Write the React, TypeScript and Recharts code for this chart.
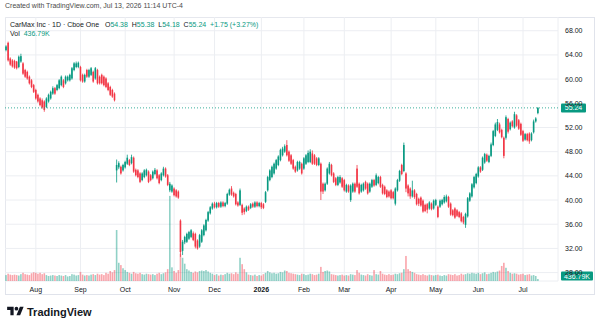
import React from 'react'
import { ComposedChart, Bar, XAxis, YAxis, CartesianGrid, ReferenceLine } from 'recharts'

// daily candles, Jul 14 2025 .. Jul 13 2026 (index = trading day)
const opens = [
  64.8, 66.0, 63.4, 63.1, 63.0, 62.9, 62.0, 62.9, 62.6, 61.5,
  61.2, 60.4, 59.8, 59.0, 58.2, 57.4, 56.8, 56.5, 56.3, 55.4,
  56.3, 56.8, 57.6, 58.5, 58.2, 58.5, 59.0, 59.8, 59.3, 59.8,
  59.8, 60.1, 61.5, 62.0, 62.0, 62.0, 60.7, 59.6, 61.5, 60.4,
  60.7, 61.2, 60.1, 61.5, 60.4, 60.7, 60.4, 60.1, 59.3, 58.7,
  58.2, 57.6, 44.9, 45.4, 45.5, 44.9, 45.4, 46.0, 46.6, 46.1,
  47.0, 45.0, 44.9, 44.4, 43.3, 43.8, 44.1, 44.7, 44.1, 43.6,
  44.3, 44.9, 44.1, 43.3, 44.1, 45.2, 44.1, 41.6, 41.4, 41.9,
  41.6, 41.4, 36.6, 31.6, 33.0, 33.1, 33.6, 33.9, 34.5, 34.4,
  33.3, 32.3, 33.1, 34.2, 35.0, 36.6, 37.8, 38.6, 39.4, 38.8,
  39.5, 38.9, 39.6, 39.0, 39.4, 40.9, 41.9, 41.2, 41.0, 39.6,
  39.2, 39.2, 38.6, 38.2, 38.9, 38.7, 39.4, 38.9, 39.6, 39.0,
  39.5, 39.3, 39.7, 41.6, 43.3, 43.8, 44.4, 45.2, 45.8, 46.6,
  47.4, 48.0, 49.1, 48.0, 47.4, 46.6, 45.5, 44.9, 45.2, 46.0,
  45.2, 46.0, 46.3, 46.3, 47.7, 47.4, 46.9, 45.8, 46.0, 42.7,
  41.6, 42.7, 44.4, 45.8, 44.4, 43.6, 42.5, 42.9, 43.6, 43.3,
  41.4, 42.4, 40.0, 41.4, 42.7, 45.2, 42.7, 41.4, 41.6, 43.0,
  42.7, 41.4, 42.2, 43.3, 42.5, 42.8, 43.8, 42.5, 42.2, 41.6,
  41.4, 41.6, 41.3, 39.4, 41.6, 43.2, 45.8, 44.8, 44.4, 42.4,
  41.9, 40.6, 41.6, 41.0, 40.2, 40.4, 39.9, 39.2, 39.3, 38.6,
  39.4, 38.6, 39.2, 38.9, 38.9, 39.3, 39.6, 39.8, 40.5, 39.4,
  38.3, 38.6, 38.3, 38.0, 37.8, 37.2, 35.9, 37.3, 39.9, 40.6,
  42.1, 42.8, 43.9, 45.4, 45.0, 46.2, 47.5, 46.3, 47.3, 49.1,
  50.6, 51.6, 52.5, 51.6, 50.3, 50.3, 53.4, 51.7, 53.0, 52.0,
  54.0, 53.2, 52.6, 51.4, 50.0, 50.9, 51.0, 49.9, 51.2, 53.0,
  54.38,
]

const highs = [
  65.6, 66.2, 63.6, 63.3, 63.2, 63.0, 63.9, 64.2, 62.8, 61.7,
  61.4, 60.6, 60.0, 59.2, 58.4, 57.6, 57.0, 56.8, 56.5, 57.0,
  57.6, 58.1, 58.8, 58.7, 59.2, 60.0, 60.6, 60.0, 60.6, 60.6,
  60.9, 62.0, 62.8, 62.9, 62.9, 62.2, 60.9, 60.9, 61.7, 61.7,
  62.0, 61.4, 62.0, 61.7, 60.6, 60.9, 60.6, 60.3, 59.5, 58.9,
  58.4, 57.8, 46.7, 46.4, 45.7, 46.0, 46.5, 47.5, 46.8, 47.5,
  47.2, 45.2, 45.1, 44.6, 44.6, 45.1, 45.2, 44.9, 44.3, 44.9,
  45.3, 45.1, 44.3, 44.6, 45.5, 45.4, 44.3, 43.0, 42.6, 42.1,
  41.8, 41.6, 36.8, 33.4, 34.1, 34.6, 34.9, 35.2, 34.8, 34.6,
  33.5, 34.4, 35.2, 36.0, 36.9, 38.2, 39.0, 39.6, 39.7, 39.7,
  39.7, 39.8, 39.8, 39.7, 41.2, 41.9, 42.3, 41.4, 41.2, 39.8,
  41.9, 39.4, 38.8, 39.1, 39.1, 39.5, 39.6, 39.8, 39.8, 39.7,
  39.7, 39.5, 41.5, 44.0, 45.1, 45.7, 46.2, 46.8, 47.4, 48.5,
  48.8, 49.2, 49.9, 48.2, 47.6, 46.8, 45.7, 46.5, 46.5, 46.2,
  47.1, 47.6, 48.2, 48.4, 48.2, 47.6, 47.1, 47.1, 46.2, 42.9,
  42.9, 45.4, 46.3, 46.0, 44.6, 43.8, 44.0, 44.1, 43.8, 43.5,
  42.7, 42.6, 42.6, 42.9, 42.9, 45.8, 42.9, 42.7, 42.9, 43.2,
  42.9, 42.9, 43.5, 43.5, 44.4, 44.0, 44.0, 42.7, 42.4, 41.8,
  41.6, 41.8, 41.5, 42.1, 43.5, 45.0, 46.0, 49.5, 44.6, 42.6,
  42.1, 43.2, 41.8, 41.2, 40.4, 40.6, 40.1, 39.4, 39.5, 39.8,
  39.6, 40.1, 40.2, 39.1, 40.1, 40.2, 40.8, 40.9, 40.7, 39.6,
  38.5, 38.8, 38.5, 38.2, 38.0, 37.4, 37.9, 40.5, 41.3, 42.8,
  44.0, 44.5, 45.6, 45.6, 47.2, 47.8, 47.7, 47.5, 49.5, 51.6,
  52.8, 53.4, 52.8, 51.8, 50.5, 54.0, 53.6, 53.0, 53.2, 54.6,
  54.2, 53.4, 52.8, 51.6, 51.1, 51.1, 51.2, 51.2, 53.3, 53.7,
  55.38,
]

const lows = [
  64.6, 62.9, 62.2, 61.9, 61.7, 61.6, 61.8, 62.7, 60.7, 60.2,
  59.9, 59.1, 58.5, 57.7, 56.6, 56.1, 55.5, 55.1, 54.6, 55.2,
  56.1, 56.6, 57.4, 57.4, 58.0, 58.3, 58.8, 58.5, 59.1, 59.6,
  59.6, 59.9, 61.3, 61.8, 61.8, 59.6, 59.4, 59.4, 60.2, 60.2,
  60.5, 59.4, 59.9, 59.1, 59.1, 59.1, 58.8, 58.5, 58.0, 57.2,
  56.9, 56.3, 42.9, 45.1, 44.2, 44.7, 45.2, 45.8, 45.6, 45.9,
  44.5, 43.9, 43.6, 42.8, 43.1, 43.6, 43.9, 42.8, 43.1, 43.4,
  44.1, 43.4, 42.6, 43.1, 43.9, 43.7, 42.3, 41.3, 41.2, 40.6,
  40.4, 40.2, 30.6, 30.9, 32.7, 32.9, 33.4, 33.7, 33.2, 32.0,
  31.8, 32.1, 32.9, 34.0, 34.8, 36.4, 37.6, 38.4, 38.6, 38.6,
  38.7, 38.7, 38.8, 38.8, 39.2, 40.7, 40.7, 40.4, 39.1, 38.9,
  39.0, 37.5, 37.6, 38.0, 38.2, 38.5, 38.7, 38.7, 38.8, 38.8,
  38.5, 38.5, 39.5, 41.4, 43.1, 43.6, 44.2, 45.0, 45.6, 46.4,
  47.2, 47.8, 47.2, 46.3, 45.8, 45.0, 44.5, 44.7, 45.0, 44.2,
  45.0, 45.8, 46.1, 46.1, 45.8, 45.8, 45.6, 45.6, 40.0, 41.0,
  41.4, 42.5, 44.2, 43.9, 42.8, 42.3, 42.3, 42.7, 42.0, 41.4,
  41.2, 41.2, 39.7, 41.2, 41.2, 42.0, 40.9, 41.2, 41.4, 41.7,
  40.9, 41.2, 42.0, 42.2, 42.3, 42.6, 42.0, 40.9, 40.8, 40.3,
  40.4, 40.1, 40.1, 39.1, 41.4, 43.0, 44.1, 44.6, 41.3, 40.6,
  40.2, 40.4, 40.2, 39.1, 39.0, 38.9, 37.9, 38.0, 37.8, 38.4,
  38.3, 38.4, 39.0, 37.0, 38.7, 39.1, 39.4, 39.6, 38.7, 37.4,
  37.3, 36.9, 37.2, 37.0, 36.3, 36.0, 35.4, 37.1, 39.7, 40.4,
  41.9, 42.6, 43.7, 44.5, 44.8, 46.0, 46.3, 46.1, 47.1, 48.9,
  50.4, 51.4, 51.0, 50.2, 46.9, 50.0, 51.0, 51.5, 52.0, 51.8,
  52.1, 51.6, 50.6, 49.6, 49.8, 49.7, 49.3, 49.7, 51.0, 52.8,
  54.18,
]

const closes = [
  65.4, 63.1, 62.4, 62.1, 61.9, 61.8, 63.7, 63.8, 60.9, 60.4,
  60.1, 59.3, 58.7, 57.9, 56.8, 56.3, 55.7, 55.3, 54.9, 56.8,
  57.4, 57.9, 58.5, 57.6, 59.0, 59.8, 60.4, 58.7, 60.4, 60.4,
  60.7, 61.8, 62.6, 62.6, 62.7, 59.8, 59.6, 60.7, 60.4, 61.5,
  61.8, 59.6, 61.8, 59.3, 59.3, 59.3, 59.0, 58.7, 58.2, 57.4,
  57.1, 56.5, 45.8, 46.1, 44.4, 45.8, 46.3, 47.0, 45.8, 47.1,
  44.7, 44.1, 43.8, 43.0, 44.4, 44.9, 45.0, 43.0, 43.3, 44.7,
  45.0, 43.6, 42.8, 44.4, 45.2, 43.9, 42.5, 42.7, 42.4, 40.8,
  40.6, 40.4, 31.4, 33.1, 33.9, 34.4, 34.7, 35.0, 33.4, 32.3,
  32.0, 34.2, 35.0, 35.8, 36.7, 38.0, 38.8, 39.4, 38.8, 39.5,
  38.9, 39.6, 39.0, 39.5, 41.0, 41.7, 40.9, 40.6, 39.3, 39.1,
  41.6, 37.9, 38.0, 38.9, 38.4, 39.3, 38.9, 39.6, 39.0, 39.5,
  38.8, 38.7, 41.3, 43.8, 44.9, 45.5, 46.0, 46.6, 47.2, 48.3,
  48.5, 48.9, 47.4, 46.5, 46.0, 45.2, 44.7, 46.3, 46.3, 44.4,
  46.9, 47.4, 47.8, 48.0, 46.0, 46.0, 45.8, 46.9, 41.4, 41.4,
  42.7, 45.2, 46.0, 44.1, 43.0, 42.5, 43.8, 43.8, 42.2, 41.6,
  42.5, 41.4, 42.4, 42.7, 41.4, 42.2, 41.1, 42.5, 42.7, 41.9,
  41.1, 42.7, 43.3, 42.4, 44.1, 43.8, 42.2, 41.1, 41.0, 40.5,
  40.6, 40.3, 40.3, 41.9, 43.3, 44.8, 44.3, 49.1, 41.9, 41.1,
  40.6, 41.6, 40.5, 39.3, 39.4, 39.1, 38.1, 38.2, 38.4, 39.6,
  38.5, 39.9, 40.0, 37.2, 39.9, 40.0, 40.5, 40.6, 38.9, 37.6,
  37.5, 37.1, 37.4, 37.2, 36.5, 36.3, 37.7, 40.3, 41.1, 42.6,
  43.8, 44.3, 45.4, 44.7, 47.0, 47.6, 46.5, 47.3, 49.2, 51.4,
  52.5, 52.9, 51.2, 50.4, 47.3, 53.7, 51.3, 52.8, 52.2, 54.2,
  52.3, 51.8, 50.8, 49.8, 50.9, 49.9, 49.7, 51.0, 53.0, 53.49,
  55.24,
]

// volume in millions of shares
const volumes = [
  1.3, 1.6, 1.4, 1.3, 1.4, 1.3, 1.2, 1.5, 1.8, 1.5,
  1.4, 1.3, 1.7, 1.9, 1.8, 1.6, 1.8, 1.5, 1.7, 1.3,
  1.1, 1.2, 1.3, 1.2, 1.1, 1.3, 1.2, 1.1, 1.3, 1.0,
  1.1, 1.5, 1.4, 1.2, 1.3, 2.0, 1.4, 1.2, 1.3, 1.2,
  1.4, 1.5, 1.3, 1.6, 1.4, 1.5, 1.3, 1.8, 1.6, 2.2,
  1.9, 2.4, 11.2, 4.0, 3.5, 2.8, 2.4, 2.0, 1.8, 1.6,
  2.0, 1.7, 1.6, 1.8, 1.5, 1.4, 1.6, 1.5, 1.4, 1.5,
  1.3, 1.6, 1.8, 1.5, 1.7, 1.9, 2.6, 18.7, 3.0, 2.2,
  1.8, 2.4, 6.0, 5.1, 3.8, 2.6, 2.3, 2.0, 1.8, 2.1,
  1.9, 2.2, 2.3, 2.2, 2.4, 2.1, 1.8, 1.6, 1.3, 1.5,
  1.2, 1.4, 1.3, 1.5, 1.8, 1.6, 1.7, 1.5, 1.9, 1.6,
  5.1, 3.7, 2.6, 1.9, 1.4, 1.3, 1.2, 1.4, 1.1, 1.3,
  1.2, 1.5, 1.8, 2.2, 1.9, 1.7, 1.8, 1.6, 1.7, 2.0,
  1.9, 2.3, 2.2, 1.8, 1.7, 1.6, 1.5, 1.4, 1.3, 1.6,
  1.5, 1.3, 1.4, 1.6, 1.5, 1.3, 1.4, 1.6, 3.1, 2.0,
  2.2, 2.3, 2.1, 1.5, 1.4, 1.3, 1.2, 1.3, 1.4, 1.2,
  1.3, 1.2, 1.5, 1.4, 1.3, 2.4, 1.8, 1.4, 1.3, 1.2,
  1.5, 1.3, 1.2, 2.4, 1.5, 1.4, 2.2, 1.6, 1.4, 1.3,
  1.5, 1.3, 1.4, 1.6, 1.5, 1.7, 1.8, 2.6, 5.5, 2.6,
  2.2, 2.0, 1.8, 1.5, 1.4, 1.3, 1.5, 1.3, 1.2, 1.4,
  1.3, 1.2, 1.3, 1.4, 1.2, 1.1, 1.3, 1.2, 1.5, 1.4,
  1.3, 1.5, 1.2, 1.3, 1.6, 1.4, 1.5, 1.7, 1.6, 1.8,
  1.7, 1.6, 1.8, 1.5, 1.7, 1.9, 1.5, 1.6, 1.8, 2.0,
  1.9, 2.1, 2.3, 3.3, 4.0, 2.9, 2.2, 1.8, 1.6, 1.7,
  1.6, 1.4, 1.5, 1.6, 1.3, 1.4, 1.5, 1.2, 1.3, 1.1,
  0.43679,
]

// first trading day of each month and its label
const monthStarts = [14, 35, 56, 79, 98, 120, 140, 159, 181, 202, 222, 243]
const monthLabels = ['Aug', 'Sep', 'Oct', 'Nov', 'Dec', '2026', 'Feb', 'Mar', 'Apr', 'May', 'Jun', 'Jul']
const priceTicks = [28, 32, 36, 40, 44, 48, 52, 56, 60, 64, 68]

const UP = '#089981'
const DOWN = '#f23645'
const TEXT = '#131722'
const FONT = '"Liberation Sans", Arial, sans-serif'

const data = closes.map((c, i) => ({
  i,
  o: opens[i],
  h: highs[i],
  l: lows[i],
  c,
  range: [lows[i], highs[i]],
  vol: volumes[i],
}))

const lastClose = closes[closes.length - 1]
const lastVolume = volumes[volumes.length - 1]

function Candle(props: any) {
  const { x, y, width, height, payload } = props
  const { o, h, l, c } = payload
  const top = Math.min(y, y + height)
  const span = Math.abs(height)
  const k = span / (h - l)
  const cx = x + width / 2
  const y1 = top + (h - Math.max(o, c)) * k
  const y2 = top + (h - Math.min(o, c)) * k
  const color = c >= o ? UP : DOWN
  return (
    <g>
      <line x1={cx} x2={cx} y1={top} y2={top + span} stroke={color} strokeWidth={0.8} />
      <rect x={cx - 0.8} y={y1} width={1.6} height={Math.max(y2 - y1, 0.8)} fill={color} />
    </g>
  )
}

function VolumeBar(props: any) {
  const { x, y, width, height, payload } = props
  const color = payload.c >= payload.o ? UP : DOWN
  return (
    <rect
      x={x + width / 2 - 0.8}
      y={Math.min(y, y + height)}
      width={1.6}
      height={Math.abs(height)}
      fill={color}
      fillOpacity={0.45}
    />
  )
}

function MonthTick({ x, y, payload }: any) {
  const label = monthLabels[monthStarts.indexOf(payload.value)]
  return (
    <text
      x={x}
      y={y + 9}
      textAnchor="middle"
      fontSize={7}
      fontFamily={FONT}
      fill={TEXT}
      fontWeight={label === '2026' ? 700 : 400}
    >
      {label}
    </text>
  )
}

function Tag({ viewBox, text, w, dy }: any) {
  const x = viewBox.x + viewBox.width + 3
  const cy = viewBox.y + dy
  return (
    <g>
      <rect x={x} y={cy - 4.5} width={w} height={9} rx={1} fill={UP} />
      <text x={x + w / 2} y={cy + 2.5} textAnchor="middle" fontSize={7} fontFamily={FONT} fill="#fff">
        {text}
      </text>
    </g>
  )
}

const up = { color: UP }

export default function App() {
  return (
    <div style={{ position: 'relative', width: 600, height: 328, background: '#fff', fontFamily: FONT, color: TEXT }}>
      <style>{'body{margin:0}'}</style>
      <div style={{ position: 'absolute', left: 5, top: 2, fontSize: 7, color: '#4a4a4a', whiteSpace: 'nowrap' }}>
        Created with TradingView.com, Jul 13, 2026 11:14 UTC-4
      </div>
      <div
        style={{
          position: 'absolute',
          left: 5,
          top: 17,
          width: 590,
          height: 278,
          border: '1px solid #e0e3eb',
          boxSizing: 'border-box',
        }}
      />
      <div style={{ position: 'absolute', left: 5, top: 17 }}>
        <ComposedChart
          width={590}
          height={278}
          data={data}
          margin={{ top: 0, right: 0, bottom: 0, left: 0 }}
          barGap={-2}
        >
          <CartesianGrid yAxisId="price" stroke="#eceef2" />
          <XAxis
            dataKey="i"
            type="category"
            ticks={monthStarts}
            interval={0}
            tick={<MonthTick />}
            tickLine={false}
            axisLine={false}
            tickSize={0}
            height={14}
            padding={{ left: 0, right: 19 }}
          />
          <YAxis
            yAxisId="price"
            orientation="right"
            domain={[26.61, 70.27]}
            allowDataOverflow
            ticks={priceTicks}
            interval={0}
            width={37}
            tickLine={false}
            axisLine={false}
            tickSize={0}
            tickMargin={7}
            tick={{ fontSize: 7, fill: TEXT, fontFamily: FONT }}
            tickFormatter={(v: number) => v.toFixed(2)}
          />
          <YAxis yAxisId="vol" hide domain={[0, 58]} allowDataOverflow />
          <Bar yAxisId="vol" dataKey="vol" barSize={2} shape={<VolumeBar />} isAnimationActive={false} />
          <Bar yAxisId="price" dataKey="range" barSize={2} shape={<Candle />} isAnimationActive={false} />
          <ReferenceLine
            yAxisId="price"
            y={lastClose}
            stroke={UP}
            strokeWidth={0.8}
            strokeDasharray="1 2"
            label={(p: any) => <Tag viewBox={p.viewBox} text={lastClose.toFixed(2)} w={25} dy={0} />}
          />
          <ReferenceLine
            yAxisId="vol"
            y={lastVolume}
            stroke="none"
            label={(p: any) => <Tag viewBox={p.viewBox} text={`${(lastVolume * 1000).toFixed(2)}K`} w={32} dy={-3} />}
          />
        </ComposedChart>
      </div>
      <div style={{ position: 'absolute', left: 10, top: 20, fontSize: 7, lineHeight: '9px', whiteSpace: 'nowrap' }}>
        <div>
          CarMax Inc · 1D · Cboe One&nbsp;&nbsp; O<span style={up}>54.38</span>&nbsp; H<span style={up}>55.38</span>&nbsp; L
          <span style={up}>54.18</span>&nbsp; C<span style={up}>55.24</span>&nbsp; <span style={up}>+1.75 (+3.27%)</span>
        </div>
        <div>
          Vol&nbsp; <span style={up}>436.79K</span>
        </div>
      </div>
      <div style={{ position: 'absolute', left: 7, top: 305, display: 'flex', alignItems: 'center' }}>
        <svg width={17} height={13} viewBox="0 0 36 28">
          <path d="M14 22H7V11H0V4h14v18zM28 22h-8l7.5-18h8L28 22z" fill={TEXT} />
          <circle cx={20} cy={8} r={4} fill={TEXT} />
        </svg>
        <span style={{ marginLeft: 3, fontSize: 11, fontWeight: 700, color: TEXT }}>TradingView</span>
      </div>
    </div>
  )
}
